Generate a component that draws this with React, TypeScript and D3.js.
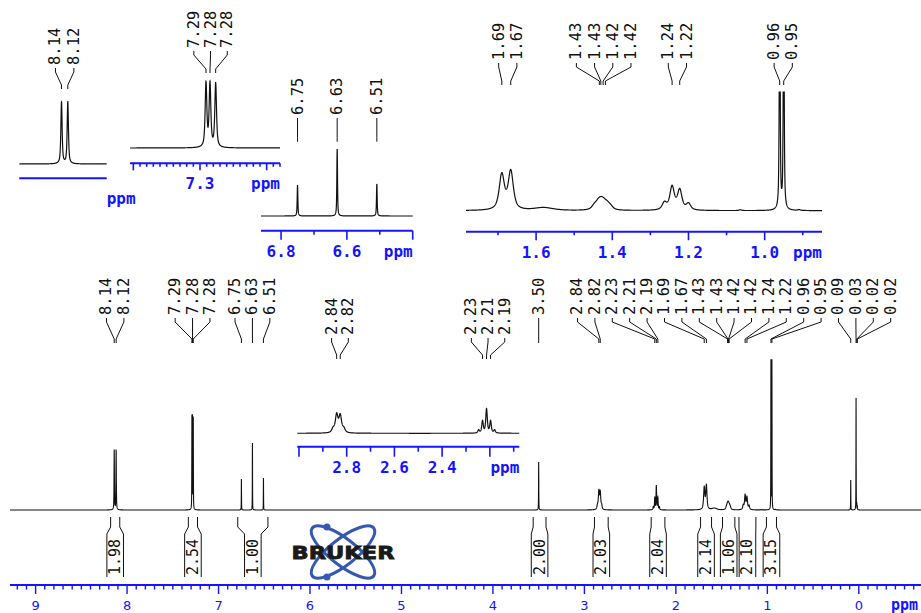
import React from "react";
import * as d3 from "d3";

// ---------- peak list (ppm, height in main-spectrum px units, half width in ppm) ----------
const peakPpm = [8.1405, 8.1195, 7.291, 7.285, 7.2765, 6.75, 6.6295, 6.509, 3.5, 2.857, 2.842, 2.827, 2.812, 2.247, 2.2306, 2.2138, 2.197, 2.18, 1.69, 1.6665, 1.58, 1.447, 1.437, 1.43, 1.423, 1.414, 1.405, 1.263, 1.243, 1.223, 1.2, 1.064, 0.9605, 0.95, 0.91, 0.088, 0.03, 0.022, 0.016];
const peakHeight = [60, 60, 91, 90, 91, 31, 67, 32, 48, 4, 18, 17, 4, 3, 12, 24, 12, 3, 22, 24, 1.8, 2.5, 3.5, 3.8, 3.5, 3, 2, 4.5, 14.5, 12.5, 4, 0.5, 149, 149, 0.5, 30, 112, 6, 4];
const peakWidth = [0.0025, 0.0025, 0.0015, 0.0015, 0.0015, 0.0012, 0.0012, 0.0012, 0.0015, 0.0065, 0.0065, 0.0065, 0.0065, 0.0038, 0.0038, 0.0038, 0.0038, 0.0038, 0.008, 0.008, 0.03, 0.008, 0.008, 0.008, 0.008, 0.008, 0.008, 0.007, 0.007, 0.007, 0.007, 0.004, 0.0014, 0.0014, 0.004, 0.0012, 0.0012, 0.0012, 0.0012];

// ---------- peak labels ----------
const mainLabelText = ["8.14", "8.12", "7.29", "7.28", "7.28", "6.75", "6.63", "6.51", "3.50", "2.84", "2.82", "2.23", "2.21", "2.19", "1.69", "1.67", "1.43", "1.43", "1.42", "1.42", "1.24", "1.22", "0.96", "0.95", "0.09", "0.03", "0.02", "0.02"];
const mainLabelPpm = [8.1405, 8.1195, 7.291, 7.285, 7.2765, 6.75, 6.6295, 6.509, 3.5, 2.842, 2.827, 2.2306, 2.2138, 2.197, 1.69, 1.6665, 1.434, 1.43, 1.424, 1.418, 1.243, 1.223, 0.9605, 0.95, 0.088, 0.03, 0.022, 0.016];
const insetALabelText = ["8.14", "8.12"];
const insetALabelPpm = [8.1405, 8.1195];
const insetBLabelText = ["7.29", "7.28", "7.28"];
const insetBLabelPpm = [7.291, 7.285, 7.2765];
const insetCLabelText = ["6.75", "6.63", "6.51"];
const insetCLabelPpm = [6.75, 6.6295, 6.509];
const insetDLabelText = ["1.69", "1.67", "1.43", "1.43", "1.42", "1.42", "1.24", "1.22", "0.96", "0.95"];
const insetDLabelPpm = [1.69, 1.6665, 1.434, 1.43, 1.424, 1.418, 1.243, 1.223, 0.9605, 0.95];
const insetELabelText = ["2.84", "2.82", "2.23", "2.21", "2.19"];
const insetELabelPpm = [2.842, 2.827, 2.2306, 2.2138, 2.197];

// ---------- integrals ----------
const integralFrom = [8.18, 7.33, 6.79, 3.56, 2.89, 2.27, 1.73, 1.49, 1.31, 1.01];
const integralTo = [8.08, 7.23, 6.46, 3.42, 2.74, 2.12, 1.61, 1.355, 1.125, 0.9];
const integralValue = ["1.98", "2.54", "1.00", "2.00", "2.03", "2.04", "2.14", "1.06", "2.10", "3.15"];

// ---------- main axis ticks ----------
const mainTickLabels = [9, 8, 7, 6, 5, 4, 3, 2, 1, 0];

const MONO = "'DejaVu Sans Mono', monospace";
const BLUE = "#1414ff";
const INK = "#111";
const ETA = 0.7;

function intensity(p: number): number {
  let s = 0;
  for (let i = 0; i < peakPpm.length; i++) {
    const d = (p - peakPpm[i]) / peakWidth[i];
    s += peakHeight[i] * (ETA / (1 + d * d) + (1 - ETA) * Math.exp(-Math.LN2 * d * d));
  }
  return s;
}

function samples(a: number, b: number, step: number): number[] {
  const lo = Math.min(a, b), hi = Math.max(a, b);
  const arr = d3.range(lo, hi, step);
  arr.push(hi);
  peakPpm.forEach((p) => { if (p > lo && p < hi) arr.push(p); });
  return arr.sort((x, y) => x - y);
}

function spread(xs: number[], s: number): number[] {
  const blocks: { n: number; sum: number }[] = [];
  xs.forEach((x) => {
    blocks.push({ n: 1, sum: x });
    while (blocks.length > 1) {
      const b2 = blocks[blocks.length - 1], b1 = blocks[blocks.length - 2];
      const p1 = b1.sum / b1.n, p2 = b2.sum / b2.n;
      if (p1 + b1.n * s > p2) {
        b1.sum += b2.sum - b2.n * b1.n * s;
        b1.n += b2.n;
        blocks.pop();
      } else break;
    }
  });
  const out: number[] = [];
  blocks.forEach((b) => { const p = b.sum / b.n; for (let k = 0; k < b.n; k++) out.push(p + k * s); });
  return out;
}

type LabelSet = { text: string[]; ppm: number[]; bottom: number; y1: number; spacing: number; dx: number };

function PeakLabels({ set, x }: { set: LabelSet; x: (v: number) => number }) {
  const px = set.ppm.map((p) => x(p));
  const lx = spread(px, set.spacing).map((v) => v + set.dx);
  const y0 = set.bottom + 3;
  return (
    <g>
      {set.text.map((t, i) => (
        <g key={i}>
          <text transform={`translate(${lx[i]},${set.bottom}) rotate(-90)`} textAnchor="start" dominantBaseline="central"
            fontFamily={MONO} fontSize={15.5} fill={INK}>{t}</text>
          <path d={`M${lx[i]},${y0} L${lx[i]},${y0 + 4} L${px[i]},${set.y1 - 4} L${px[i]},${set.y1}`} fill="none" stroke={INK} strokeWidth={1} />
        </g>
      ))}
    </g>
  );
}

type InsetCfg = {
  id: string; x0: number; x1: number; ppm0: number; ppm1: number; base: number; gain: number; axisY: number;
  major: number; minor: number; majorLen: number; minorLen: number; ppmAnchor: "start" | "end"; clipTop?: number; labels: LabelSet;
};

const insets: InsetCfg[] = [
  { id: "A", x0: 19.3, x1: 106.7, ppm0: 8.281, ppm1: 7.99, base: 164, gain: 1.03, axisY: 178.3, major: 0, minor: 0, majorLen: 0, minorLen: 0, ppmAnchor: "start",
    labels: { text: insetALabelText, ppm: insetALabelPpm, bottom: 65, y1: 89, spacing: 18.4, dx: 0 } },
  { id: "B", x0: 130, x1: 280, ppm0: 7.405, ppm1: 7.18, base: 148, gain: 0.7, axisY: 163.3, major: 0.1, minor: 0.01, majorLen: 7, minorLen: 3.5, ppmAnchor: "end",
    labels: { text: insetBLabelText, ppm: insetBLabelPpm, bottom: 48, y1: 73, spacing: 16.7, dx: 0 } },
  { id: "C", x0: 261, x1: 412.7, ppm0: 6.861, ppm1: 6.4, base: 216, gain: 1.0, axisY: 230.7, major: 0.2, minor: 0.1, majorLen: 9, minorLen: 4, ppmAnchor: "end",
    labels: { text: insetCLabelText, ppm: insetCLabelPpm, bottom: 115, y1: 141.7, spacing: 17, dx: 0 } },
  { id: "D", x0: 466, x1: 822, ppm0: 1.784, ppm1: 0.8495, base: 210.7, gain: 1.6, axisY: 231.7, major: 0.2, minor: 0.1, majorLen: 8.5, minorLen: 3.5, ppmAnchor: "end", clipTop: 91.5,
    labels: { text: insetDLabelText, ppm: insetDLabelPpm, bottom: 60, y1: 85, spacing: 18.2, dx: 1.5 } },
  { id: "E", x0: 297.3, x1: 519.3, ppm0: 3.007, ppm1: 2.0765, base: 433.3, gain: 1.0, axisY: 446.7, major: 0.2, minor: 0.1, majorLen: 10, minorLen: 5, ppmAnchor: "end",
    labels: { text: insetELabelText, ppm: insetELabelPpm, bottom: 335, y1: 359, spacing: 16.7, dx: 1.5 } },
];

function ticksFor(lo: number, hi: number, step: number): number[] {
  const out: number[] = [];
  if (!step) return out;
  for (let k = Math.ceil(lo / step - 1e-9); k <= Math.floor(hi / step + 1e-9); k++) out.push(+(k * step).toFixed(4));
  return out;
}
const isMajor = (v: number, M: number) => Math.abs(v / M - Math.round(v / M)) < 1e-6;

function Inset({ c }: { c: InsetCfg }) {
  const x = d3.scaleLinear().domain([c.ppm0, c.ppm1]).range([c.x0, c.x1]);
  const y = (v: number) => c.base - v * c.gain;
  const pts = samples(c.ppm0, c.ppm1, Math.abs(c.ppm0 - c.ppm1) / 3000);
  const d = d3.line<number>().x((p) => x(p)).y((p) => y(intensity(p)))(pts) || "";
  const ticks = ticksFor(Math.min(c.ppm0, c.ppm1), Math.max(c.ppm0, c.ppm1), c.minor);
  const clipId = `clip-${c.id}`;
  return (
    <g>
      {c.clipTop !== undefined && (
        <defs><clipPath id={clipId}><rect x={c.x0 - 2} y={c.clipTop} width={c.x1 - c.x0 + 4} height={c.base - c.clipTop + 20} /></clipPath></defs>
      )}
      <path d={d} fill="none" stroke={INK} strokeWidth={1.2} clipPath={c.clipTop !== undefined ? `url(#${clipId})` : undefined} />
      <line x1={c.x0} x2={c.x1} y1={c.axisY} y2={c.axisY} stroke={BLUE} strokeWidth={2} />
      {ticks.map((t, i) => {
        const maj = isMajor(t, c.major);
        const tx = x(t);
        const showLabel = maj && tx - c.x0 > 12 && c.x1 - tx > 40;
        return (
          <g key={i}>
            <line x1={tx} x2={tx} y1={c.axisY} y2={c.axisY + (maj ? c.majorLen : c.minorLen)} stroke={BLUE} strokeWidth={1.6} />
            {showLabel && (
              <text x={tx} y={c.axisY + 26} textAnchor="middle" fontFamily={MONO} fontWeight="bold" fontSize={16} fill={BLUE}>{d3.format(".1f")(t)}</text>
            )}
          </g>
        );
      })}
      <text x={c.x1} y={c.axisY + 26} textAnchor={c.ppmAnchor} fontFamily={MONO} fontWeight="bold" fontSize={16} fill={BLUE}>ppm</text>
      <PeakLabels set={c.labels} x={x} />
    </g>
  );
}

export default function App() {
  const X0 = 10, X1 = 921;
  const x = d3.scaleLinear().domain([9.28, -0.68]).range([X0, X1]);
  const y = d3.scaleLinear().domain([0, 152]).range([510, 358]);
  const pts = samples(9.28, -0.68, 0.0005);
  const mainPath = d3.line<number>().x((p) => x(p)).y((p) => y(intensity(p)))(pts) || "";
  const axisY = 585;
  const ticks = ticksFor(-0.6, 9.2, 0.1);
  const mainLabels: LabelSet = { text: mainLabelText, ppm: mainLabelPpm, bottom: 315, y1: 343, spacing: 17.4, dx: 0 };

  const intTop = 517, intBend0 = 527, intBend1 = 534, intBottom = 577, hw = 8.3;

  return (
    <svg width={921} height={613} style={{ position: "absolute", left: 0, top: 0, background: "#fff" }}>
      <rect width={921} height={613} fill="#fff" />
      {/* main spectrum */}
      <path d={mainPath} fill="none" stroke={INK} strokeWidth={1.1} />
      <PeakLabels set={mainLabels} x={x} />

      {/* integrals */}
      {integralValue.map((v, i) => {
        const a = x(integralFrom[i]), b = x(integralTo[i]);
        const c = (a + b) / 2;
        return (
          <g key={i}>
            <path d={`M${a},${intTop} L${a},${intBend0} L${c - hw},${intBend1} L${c - hw},${intBottom}`} fill="none" stroke={INK} strokeWidth={1} />
            <path d={`M${b},${intTop} L${b},${intBend0} L${c + hw},${intBend1} L${c + hw},${intBottom}`} fill="none" stroke={INK} strokeWidth={1} />
            <text transform={`translate(${c},${intBottom - 2}) rotate(-90)`} textAnchor="start" dominantBaseline="central" fontFamily={MONO} fontSize={15} fill={INK}>{v}</text>
          </g>
        );
      })}

      {/* main axis */}
      <line x1={X0} x2={X1} y1={axisY} y2={axisY} stroke={BLUE} strokeWidth={2} />
      {ticks.map((t, i) => {
        const maj = isMajor(t, 1);
        return <line key={i} x1={x(t)} x2={x(t)} y1={axisY} y2={axisY + (maj ? 9 : 4.5)} stroke={BLUE} strokeWidth={1.4} />;
      })}
      {mainTickLabels.map((t) => (
        <text key={t} x={x(t)} y={axisY + 25} textAnchor="middle" fontFamily="'DejaVu Sans', sans-serif" fontSize={13} fill={BLUE}>{t}</text>
      ))}
      <text x={X1 - 3} y={axisY + 25} textAnchor="end" fontFamily={MONO} fontWeight="bold" fontSize={15} fill={BLUE}>ppm</text>

      {/* insets */}
      {insets.map((c) => <Inset key={c.id} c={c} />)}

      {/* Bruker logo */}
      <g transform="translate(343,552)">
        <ellipse rx={39} ry={13} transform="rotate(38)" fill="none" stroke="#3558b0" strokeWidth={3} />
        <ellipse rx={39} ry={13} transform="rotate(-38)" fill="none" stroke="#3558b0" strokeWidth={3} />
        <circle cx={-16} cy={-25} r={3.5} fill="#3558b0" />
        <circle cx={-16} cy={25} r={3.5} fill="#3558b0" />
        <text x={0} y={6.5} textAnchor="middle" fontFamily="'DejaVu Sans', sans-serif" fontWeight="bold" fontSize={18}
          textLength={103} lengthAdjust="spacingAndGlyphs" fill="#1a1a1a" stroke="#1a1a1a" strokeWidth={0.8}>BRUKER</text>
      </g>
    </svg>
  );
}
